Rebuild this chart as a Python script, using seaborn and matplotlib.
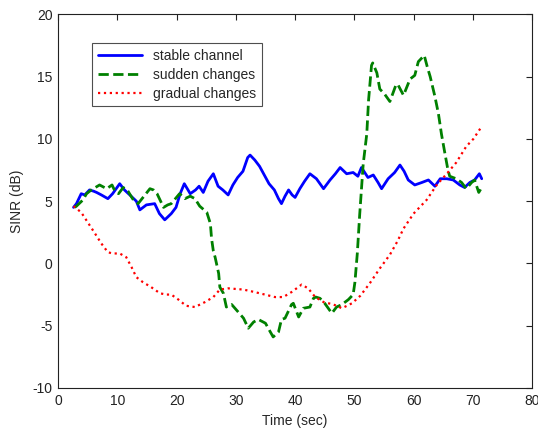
import numpy as np
import pandas as pd
import matplotlib
matplotlib.use("Agg")
import matplotlib.pyplot as plt
import seaborn as sns

# SINR traces (time in sec, SINR in dB)
stable_t = [2.6, 3.1, 3.9, 4.5, 5.3, 6.0, 6.5, 7.3, 8.4, 9.2, 10.4, 11.2, 12.1, 13.2,
            13.8, 14.9, 16.3, 17.1, 18.0, 19.1, 19.9, 20.6, 21.3, 22.3, 23.2, 23.8,
            24.5, 25.3, 26.2, 27.0, 27.8, 28.7, 29.5, 30.3, 31.2, 32.0, 32.4, 33.2,
            34.0, 34.8, 35.6, 36.5, 37.2, 37.7, 38.3, 38.9, 39.5, 40.0, 40.8, 41.6,
            42.5, 43.6, 44.2, 44.8, 45.9, 46.8, 47.6, 48.7, 49.8, 50.6, 51.2, 52.3,
            53.2, 54.0, 54.6, 55.7, 56.8, 57.7, 58.4, 59.1, 60.2, 61.4, 62.5, 63.6,
            64.5, 65.6, 66.7, 67.8, 68.6, 69.5, 70.3, 71.1, 71.5]
stable_db = [4.5, 4.8, 5.6, 5.5, 5.9, 5.8, 5.7, 5.5, 5.2, 5.6, 6.4, 5.9, 5.5, 5.0,
             4.3, 4.7, 4.8, 4.0, 3.5, 4.0, 4.5, 5.6, 6.4, 5.6, 5.9, 6.2,
             5.7, 6.6, 7.2, 6.2, 5.9, 5.5, 6.3, 6.9, 7.4, 8.5, 8.7, 8.3,
             7.8, 7.1, 6.4, 5.9, 5.2, 4.8, 5.4, 5.9, 5.5, 5.3, 6.0, 6.6,
             7.2, 6.8, 6.4, 6.0, 6.7, 7.2, 7.7, 7.2, 7.3, 7.0, 7.7, 6.9,
             7.1, 6.5, 6.0, 6.8, 7.3, 7.9, 7.4, 6.7, 6.3, 6.5, 6.7, 6.2,
             6.8, 6.8, 6.7, 6.3, 6.1, 6.5, 6.7, 7.2, 6.8]

sudden_t = [2.8, 3.1, 4.2, 4.8, 5.6, 7.0, 8.2, 9.1, 9.6, 10.2, 11.0, 11.8, 12.7, 13.5,
            14.5, 15.5, 16.1, 16.7, 17.8, 18.5, 19.1, 20.5, 21.4, 22.3, 23.1, 23.9,
            25.1, 25.7, 25.9, 26.2, 26.5, 27.1, 27.3, 27.9, 28.4, 29.3, 30.4, 31.3,
            32.1, 33.0, 33.8, 35.0, 35.7, 36.3, 37.2, 37.7, 38.3, 39.4, 39.7, 40.6,
            41.4, 42.5, 43.1, 43.5, 44.2, 45.0, 46.2, 47.0, 47.9, 49.0, 49.8, 50.1,
            50.5, 50.9, 51.5, 52.1, 52.4, 52.9, 53.1, 53.8, 54.3, 55.1, 56.0, 57.0,
            57.3, 58.3, 59.4, 60.2, 60.8, 61.8, 62.3, 62.8, 63.6, 64.2, 64.7, 65.3,
            65.8, 66.1, 67.2, 68.1, 68.9, 69.8, 70.3, 71.0, 71.5]
sudden_db = [4.5, 4.6, 5.1, 5.6, 5.9, 6.3, 6.0, 6.3, 5.8, 5.6, 6.1, 5.8, 5.1, 4.8,
             5.4, 6.0, 5.9, 5.6, 4.5, 4.7, 4.8, 5.6, 5.2, 5.4, 5.2, 4.6,
             4.1, 3.2, 2.0, 1.0, 0.5, -0.8, -1.9, -2.4, -3.5, -3.3, -3.9, -4.4,
             -5.2, -4.7, -4.5, -4.8, -5.4, -5.9, -5.5, -4.5, -4.4, -3.3, -3.2, -4.3,
             -3.6, -3.5, -2.8, -2.7, -2.8, -3.2, -4.0, -3.5, -3.3, -2.9, -2.5, -1.5,
             0.8, 3.9, 8.0, 10.4, 13.1, 15.9, 16.1, 15.3, 14.0, 13.6, 13.0, 14.3,
             14.4, 13.5, 14.8, 15.1, 16.2, 16.7, 15.8, 15.0, 13.4, 12.0, 10.4, 8.8,
             7.5, 7.0, 6.8, 6.5, 6.0, 6.5, 6.7, 5.7, 6.1]

gradual_t = [2.6, 3.9, 5.0, 6.1, 7.3, 8.4, 9.2, 10.4, 11.5, 12.4, 13.2, 14.3, 15.7,
             17.2, 18.3, 19.1, 20.3, 21.6, 23.1, 24.8, 26.2, 27.3, 28.7, 31.3, 33.2,
             34.9, 36.6, 38.0, 39.4, 41.1, 42.2, 43.4, 44.8, 46.5, 47.9, 49.6, 51.0,
             52.6, 54.3, 56.0, 57.3, 58.3, 60.0, 62.2, 63.9, 65.6, 67.2, 68.9, 70.1,
             71.5]
gradual_db = [4.6, 4.1, 3.3, 2.5, 1.6, 0.9, 0.8, 0.8, 0.5, -0.3, -1.1, -1.5, -1.9,
              -2.4, -2.5, -2.5, -2.9, -3.4, -3.5, -3.1, -2.7, -2.1, -2.0, -2.1, -2.3,
              -2.5, -2.7, -2.7, -2.3, -1.7, -2.0, -2.7, -3.1, -3.3, -3.6, -3.2, -2.6,
              -1.6, -0.4, 0.7, 1.8, 2.8, 4.0, 5.1, 6.3, 7.2, 8.1, 9.4, 10.0,
              11.0]


def main():
    sns.set_style("white")
    plt.rcParams['font.family'] = ['Liberation Sans', 'DejaVu Sans']
    plt.rcParams['axes.unicode_minus'] = False

    fig = plt.figure(figsize=(5.38, 4.29), dpi=100)
    ax = fig.add_axes([0.108, 0.0956, 0.881, 0.871])

    stable = pd.DataFrame({'t': stable_t, 'sinr': stable_db})
    sudden = pd.DataFrame({'t': sudden_t, 'sinr': sudden_db})
    gradual = pd.DataFrame({'t': gradual_t, 'sinr': gradual_db})

    sns.lineplot(data=stable, x='t', y='sinr', ax=ax, color='#0000ff',
                 linewidth=2, estimator=None, sort=False, label='stable channel')
    sns.lineplot(data=sudden, x='t', y='sinr', ax=ax, color='#008000',
                 linewidth=2, linestyle='--', estimator=None, sort=False,
                 label='sudden changes')
    sns.lineplot(data=gradual, x='t', y='sinr', ax=ax, color='#ff0000',
                 linewidth=1.6, linestyle=':', estimator=None, sort=False,
                 label='gradual changes')

    ax.set_xlim(0, 80)
    ax.set_ylim(-10, 20)
    ax.set_xticks(np.arange(0, 81, 10))
    ax.set_yticks(np.arange(-10, 21, 5))
    ax.tick_params(direction='in', top=True, right=True, length=4,
                   width=0.8, labelsize=10, colors='#222222', pad=4)
    for s in ax.spines.values():
        s.set_color('#222222')
        s.set_linewidth(0.8)

    ax.set_xlabel('Time (sec)', fontsize=10, labelpad=5)
    ax.set_ylabel('SINR (dB)', fontsize=10, labelpad=6)

    leg = ax.legend(loc='upper left', bbox_to_anchor=(0.072, 0.922),
                    fontsize=10, frameon=True, fancybox=False,
                    handlelength=3.2, borderpad=0.4, labelspacing=0.35,
                    borderaxespad=0)
    leg.get_frame().set_edgecolor('#222222')
    leg.get_frame().set_linewidth(0.8)

    fig.savefig('out.png', dpi=100)


if __name__ == "__main__":
    main()
